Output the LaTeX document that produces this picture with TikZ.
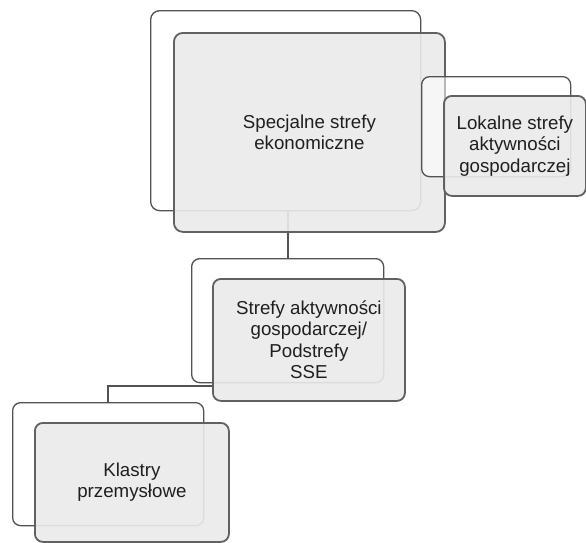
\documentclass[tikz,border=0pt]{standalone}
\usepackage{fontspec}
\setmainfont{Liberation Sans}
\begin{document}
\begin{tikzpicture}[x=1pt,y=-1pt,
  outerbox/.style={draw=black!68, line width=1.3pt, rounded corners=9pt, fill=white, fill opacity=0.55, inner sep=0pt, anchor=north west},
  filledbox/.style={draw=black!62, line width=1.8pt, rounded corners=9pt, fill=black!8, fill opacity=0.9, text opacity=1, inner sep=0pt, anchor=north west, align=center, text=black!88, font=\fontsize{18.7}{21.5}\selectfont},
  link/.style={draw=black!68, line width=1.3pt}]
\useasboundingbox (0,0) rectangle (586,542);
\fill[white] (0,0) rectangle (586,542);
\coordinate (j1) at (288,0);
\coordinate (j3) at (108,0);
% big group
\node[outerbox, minimum width=270pt, minimum height=200pt] (bigO) at (150,10) {};
\draw[link] (bigO.south -| j1) -- (288,258) coordinate (midtop);
\node[filledbox, minimum width=271pt, minimum height=199pt] (bigF) at (173,32) {Specjalne strefy\\ekonomiczne};
% local group
\node[outerbox, minimum width=149pt, minimum height=100pt, rounded corners=8pt] (lokO) at (421,76) {};
\node[filledbox, minimum width=142pt, minimum height=100pt, rounded corners=8pt] (lokF) at (443,95) {Lokalne strefy\\aktywności\\gospodarczej};
% middle group
\node[outerbox, minimum width=192pt, minimum height=124pt, rounded corners=8pt] (midO) at (191,258) {};
\draw[link] (midO.north -| j1) -- (bigF.south -| j1);
\node[outerbox, minimum width=191pt, minimum height=123pt, rounded corners=8pt] (klO) at (12,402) {};
\draw[link] (klO.north -| j3) |- (212,386) coordinate (midleft);
\node[filledbox, minimum width=192pt, minimum height=122pt, rounded corners=8pt] (midF) at (212,278) {Strefy aktywności\\gospodarczej/\\Podstrefy\\SSE};
% klastry
\node[filledbox, minimum width=194pt, minimum height=119pt, rounded corners=8pt] (klF) at (34,422) {Klastry\\przemysłowe};
\end{tikzpicture}
\end{document}
